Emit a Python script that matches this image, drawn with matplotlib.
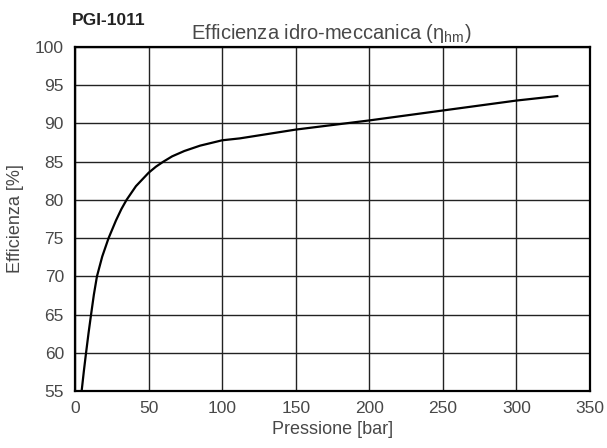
import matplotlib
matplotlib.use("Agg")
import matplotlib.pyplot as plt

plt.rcParams['font.family'] = ['Liberation Sans', 'DejaVu Sans']
plt.rcParams['mathtext.fontset'] = 'custom'
plt.rcParams['mathtext.rm'] = 'Liberation Sans'
plt.rcParams['mathtext.it'] = 'Liberation Sans'

pressione = [4.5, 6, 7.5, 9.2, 10.9, 12.8, 14.9, 18.5, 22.8, 27.8, 31.5, 35, 41.4, 50,
             55, 60, 66, 74.3, 85, 100, 112, 150, 200, 250, 300, 328.5]
efficienza = [55, 57.6, 60, 62.6, 65, 67.6, 70, 72.6, 75, 77.3, 78.8, 80, 81.8, 83.55,
              84.35, 85.0, 85.7, 86.4, 87.1, 87.8, 88.05, 89.2, 90.4, 91.7, 93.0, 93.6]
x_ticks = [0, 50, 100, 150, 200, 250, 300, 350]
y_ticks = [55, 60, 65, 70, 75, 80, 85, 90, 95, 100]

txt = '#484848'
fig = plt.figure(figsize=(6.07, 4.48), dpi=100)
ax = fig.add_axes([0.1236, 0.1272, 0.8484, 0.7678])
ax.plot(pressione, efficienza, color='black', lw=1.6, solid_capstyle='butt', solid_joinstyle='round')
ax.set_xlim(0, 350)
ax.set_ylim(55, 100)
ax.set_xticks(x_ticks)
ax.set_yticks(y_ticks)
ax.grid(True, color='#222222', lw=1.0)
ax.set_axisbelow(True)
for s in ax.spines.values():
    s.set_color('black')
    s.set_linewidth(1.6)
ax.tick_params(length=0, labelsize=12.5, labelcolor=txt)
ax.tick_params(axis='y', pad=8)
ax.tick_params(axis='x', pad=7)
ax.set_xlabel('Pressione [bar]', fontsize=13, color=txt, labelpad=4)
ax.set_ylabel('Efficienza [%]', fontsize=13, color=txt, labelpad=8)
fig.text(0.546, 0.913, r'Efficienza idro-meccanica ($\mathregular{\eta_{hm}}$)', ha='center', va='baseline',
         fontsize=14.5, color=txt)
fig.text(0.118, 0.944, 'PGI-1011', ha='left', va='baseline', fontsize=12.5, fontweight='bold', color='#222222')
fig.savefig('out.png', dpi=100)
